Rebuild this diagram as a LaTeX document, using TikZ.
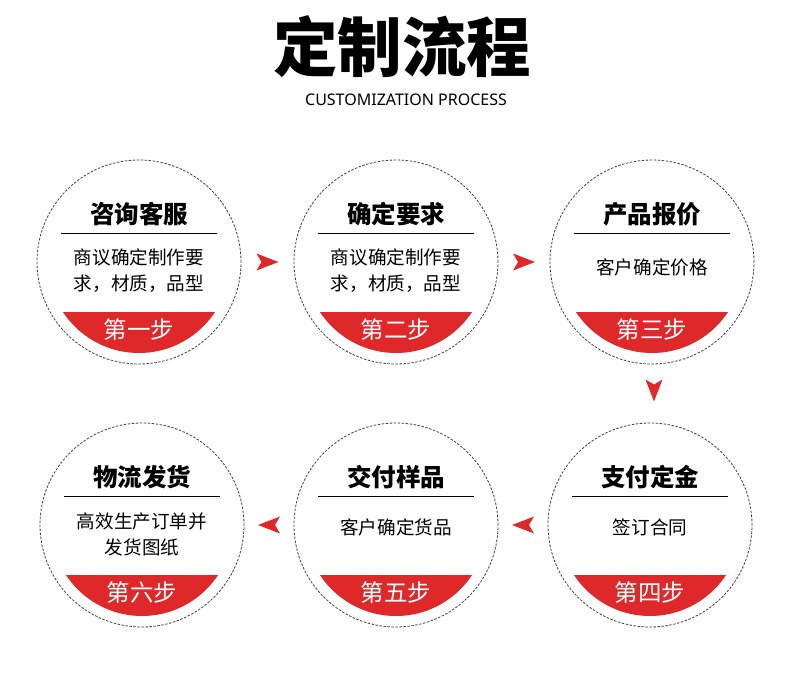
\documentclass[tikz,border=0pt]{standalone}
\usepackage{fontspec}
\setmainfont{Noto Sans CJK SC}
\newfontfamily\latinfont{Noto Sans}
\usetikzlibrary{calc}
\definecolor{stepred}{RGB}{222,40,42}

\tikzset{
    yuan/.style={circle,draw=gray!50!black,line width=0.8pt,dash pattern=on 2.5pt off 1.5pt,minimum size=204pt,inner sep=0pt},
    biaoti/.style={font=\fontsize{24.5}{24.5}\selectfont\bfseries},
    neirong/.style={font=\fontsize{18.6}{26}\selectfont,align=center},
    buzhou/.style={font=\fontsize{23.5}{23.5}\selectfont,text=white},
    pics/jiantou/.style={code={\fill[stepred] (11,0) -- (-11,-8.5) -- (-6,0) -- (-11,8.5) -- cycle;}}
}

\begin{document}
\begin{tikzpicture}[x=1pt,y=-1pt]
    \useasboundingbox[fill=white] (0,0) rectangle (790,675);

    % 标题
    \node (title) at (402,47) {\fontsize{64.5}{64.5}\selectfont\bfseries 定制流程};
    \node (subtitle) at (406,100) {\latinfont\fontsize{16}{16}\selectfont CUSTOMIZATION PROCESS};

    % 六个步骤
    \foreach \n/\x/\y/\head/\body/\dy/\step in {
        1/139/262/咨询客服/{商议确定制作要\\求，材质，品型}/9/第一步,
        2/396/262/确定要求/{商议确定制作要\\求，材质，品型}/9/第二步,
        3/652/262/产品报价/{客户确定价格}/5/第三步,
        4/650/525/支付定金/{签订合同}/2/第四步,
        5/396/525/交付样品/{客户确定货品}/2/第五步,
        6/142/525/物流发货/{高效生产订单并\\发货图纸}/9/第六步} {
        \begin{scope}
            \clip (\x,\y) circle (91);
            \fill[stepred] (\x-100,\y+50) rectangle (\x+100,\y+100);
        \end{scope}
        \node[yuan] (c\n) at (\x,\y) {};
        \node[biaoti] (h\n) at (\x,\y-48) {\head};
        \draw[line width=0.8pt] (\x-78,\y-29) -- (\x+78,\y-29);
        \node[neirong] (b\n) at (\x,\y+\dy) {\body};
        \node[buzhou] (s\n) at (\x,\y+68) {\step};
    }

    % 箭头
    \pic at ($(c1)!0.5!(c2)$) {jiantou};
    \pic at ($(c2)!0.5!(c3)$) {jiantou};
    \pic[rotate=-90] at ($(c3)!0.5!(c4)+(3,-3)$) {jiantou};
    \pic[rotate=180] at ($(c4)!0.5!(c5)$) {jiantou};
    \pic[rotate=180] at ($(c5)!0.5!(c6)$) {jiantou};
\end{tikzpicture}
\end{document}
